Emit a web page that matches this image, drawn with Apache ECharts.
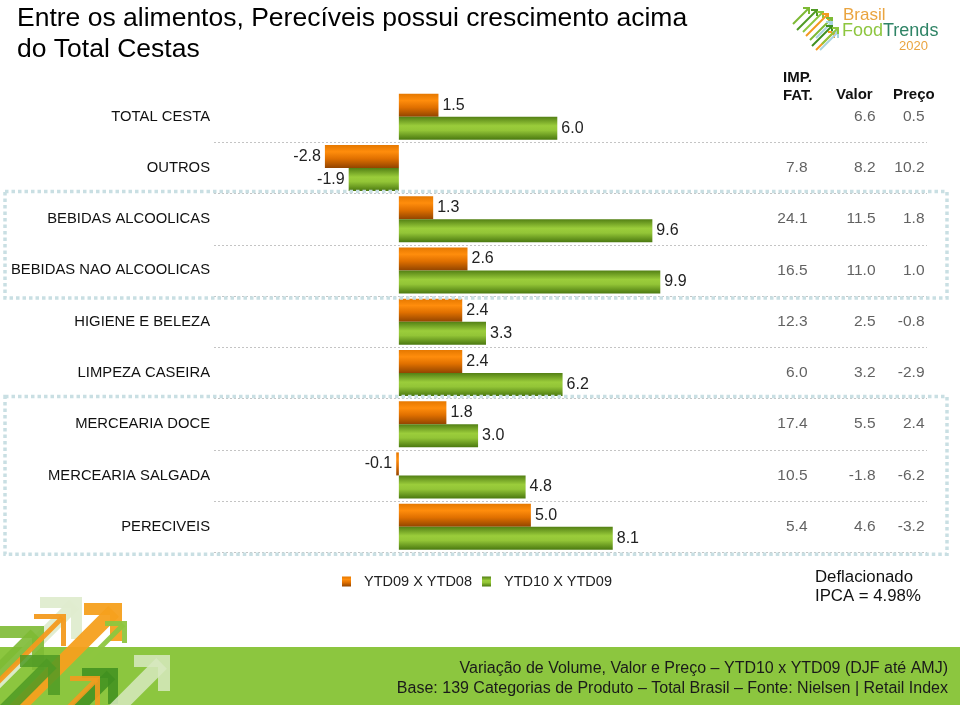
<!DOCTYPE html>
<html><head><meta charset="utf-8">
<script src="https://cdn.jsdelivr.net/npm/echarts@6/dist/echarts.min.js"></script>
<style>html,body{margin:0;padding:0;background:#fff}#c{width:960px;height:705px}</style>
</head><body><div id="c"></div>
<script>
// ---- data ----
const categories = ['TOTAL CESTA','OUTROS','BEBIDAS ALCOOLICAS','BEBIDAS NAO ALCOOLICAS','HIGIENE E BELEZA','LIMPEZA CASEIRA','MERCEARIA DOCE','MERCEARIA SALGADA','PERECIVEIS'];
const seriesNames = ['YTD09 X YTD08','YTD10 X YTD09'];
const ytd09x08 = [1.5,-2.8,1.3,2.6,2.4,2.4,1.8,-0.1,5.0];
const ytd10x09 = [6.0,-1.9,9.6,9.9,3.3,6.2,3.0,4.8,8.1];
const tableColumns = ['IMP. FAT.','Valor','Preço'];
const impFat = [null,7.8,24.1,16.5,12.3,6.0,17.4,10.5,5.4];
const valor  = [6.6,8.2,11.5,11.0,2.5,3.2,5.5,-1.8,4.6];
const preco  = [0.5,10.2,1.8,1.0,-0.8,-2.9,2.4,-6.2,-3.2];
const highlightGroups = [['BEBIDAS ALCOOLICAS','BEBIDAS NAO ALCOOLICAS'],['MERCEARIA DOCE','MERCEARIA SALGADA','PERECIVEIS']];

const FONT = "'Liberation Sans', Arial, sans-serif";
const chart = echarts.init(document.getElementById('c'), null, {renderer:'canvas'});

const orangeGrad = new echarts.graphic.LinearGradient(0,0,0,1,[
  {offset:0,color:'#e57800'},{offset:0.3,color:'#ff8d0c'},{offset:0.6,color:'#e07000'},{offset:1,color:'#934500'}]);
const greenGrad = new echarts.graphic.LinearGradient(0,0,0,1,[
  {offset:0,color:'#527f14'},{offset:0.4,color:'#9bcd3b'},{offset:0.6,color:'#93c537'},{offset:1,color:'#4b7910'}]);

function barData(arr){ return arr.map(v => ({value:v, label:{position: v < 0 ? 'left' : 'right'}})); }
function tableData(arr, col){ const out=[]; arr.forEach((v,i)=>{ if(v!==null) out.push([col,i,v]); }); return out; }

const barLabel = {show:true, distance:4, fontFamily:FONT, fontSize:16, color:'#222', formatter:p=>p.value.toFixed(1)};
const tableLabel = {show:true, position:'left', distance:0, fontFamily:FONT, fontSize:15.5, color:'#3a3a3a', formatter:p=>p.value[2].toFixed(1)};

const option = {
  animation:false,
  backgroundColor:'#fff',
  grid:[
    {left:214, right:33, top:91, bottom:152.7},
    {left:778.75, right:5.75, top:91, bottom:152.7}
  ],
  xAxis:[
    {type:'value', gridIndex:0, min:-7, max:20, show:false},
    {type:'category', gridIndex:1, data:tableColumns, show:false}
  ],
  yAxis:[
    {type:'category', gridIndex:0, inverse:true, data:categories,
     axisLine:{show:false}, axisTick:{show:false},
     axisLabel:{fontFamily:FONT, fontSize:14.8, color:'#111', margin:4},
     splitLine:{show:true, interval:(i)=>i!==0, lineStyle:{color:'#c4c4c4', width:1, type:[2,2]}}},
    {type:'category', gridIndex:1, inverse:true, data:categories, show:false}
  ],
  legend:{
    data:seriesNames, left:337, top:569, itemWidth:9, itemHeight:10, itemGap:10, icon:'rect',
    textStyle:{fontFamily:FONT, fontSize:14.5, color:'#222', padding:[0,0,0,8]}
  },
  series:[
    {type:'bar', name:seriesNames[0], xAxisIndex:0, yAxisIndex:0, data:barData(ytd09x08), barWidth:23, barGap:'0%',
     itemStyle:{color:orangeGrad}, label:barLabel},
    {type:'bar', name:seriesNames[1], xAxisIndex:0, yAxisIndex:0, data:barData(ytd10x09), barWidth:23, barGap:'0%',
     itemStyle:{color:greenGrad}, label:barLabel},
    {type:'scatter', name:tableColumns[0], xAxisIndex:1, yAxisIndex:1, data:tableData(impFat,0), symbolSize:1, itemStyle:{color:'rgba(0,0,0,0)'}, label:tableLabel, silent:true},
    {type:'scatter', name:tableColumns[1], xAxisIndex:1, yAxisIndex:1, data:tableData(valor,1), symbolSize:1, itemStyle:{color:'rgba(0,0,0,0)'}, label:Object.assign({}, tableLabel, {offset:[9.5,0]}), silent:true},
    {type:'scatter', name:tableColumns[2], xAxisIndex:1, yAxisIndex:1, data:tableData(preco,2), symbolSize:1, itemStyle:{color:'rgba(0,0,0,0)'}, label:tableLabel, silent:true}
  ]
};
chart.setOption(option);

// ---- decorations ----
const g = [];
// title
g.push({type:'text', left:17, top:3, style:{text:'Entre os alimentos, Perecíveis possui crescimento acima\ndo Total Cestas', font:'26.5px '+FONT, fill:'#000', lineHeight:31}});
// table headers
g.push({type:'text', x:783, y:69, style:{text:'IMP.\nFAT.', font:'bold 15px '+FONT, fill:'#111', lineHeight:18}});
g.push({type:'text', x:836, y:87, style:{text:'Valor', font:'bold 15px '+FONT, fill:'#111'}});
g.push({type:'text', x:893, y:87, style:{text:'Preço', font:'bold 15px '+FONT, fill:'#111'}});
// deflacionado note
g.push({type:'text', x:815, y:568, style:{text:'Deflacionado\nIPCA = 4.98%', font:'16.8px '+FONT, fill:'#111', lineHeight:19}});

// highlight boxes tied to category scale
const band = (705 - 91 - 152.7) / categories.length;
highlightGroups.forEach(grp=>{
  const yTop = chart.convertToPixel({yAxisIndex:0}, grp[0]) - band/2 - 2;
  const yBot = chart.convertToPixel({yAxisIndex:0}, grp[grp.length-1]) + band/2 + 2;
  g.push({type:'rect', z:50, shape:{x:5, y:yTop, width:942, height:yBot-yTop},
    style:{fill:'none', stroke:'#c9dfe3', lineWidth:3.5, lineDash:[3.5,3]}});
});

// bottom band
g.push({type:'rect', z:1, shape:{x:0,y:647,width:960,height:58}, style:{fill:'#8cc63f'}});
g.push({type:'text', z:5, x:948, y:669, style:{text:'Variação de Volume, Valor e Preço – YTD10 x YTD09 (DJF até AMJ)', font:'16px '+FONT, fill:'#1a1a1a', align:'right', verticalAlign:'middle'}});
g.push({type:'text', z:5, x:948, y:689, style:{text:'Base: 139 Categorias de Produto – Total Brasil – Fonte: Nielsen | Retail Index', font:'16px '+FONT, fill:'#1a1a1a', align:'right', verticalAlign:'middle'}});

// big arrows bottom-left
function bigArrow(cx, cy, arm, thick, shaftLen, shaftW, color, op, z){
  g.push({type:'polygon', z:z||2, shape:{points:[[cx-arm,cy],[cx,cy],[cx,cy+arm],[cx-thick,cy+arm],[cx-thick,cy+thick],[cx-arm,cy+thick]]}, style:{fill:color, opacity:op}});
  g.push({type:'line', z:z||2, shape:{x1:cx-thick*0.7, y1:cy+thick*0.7, x2:cx-shaftLen, y2:cy+shaftLen}, style:{stroke:color, lineWidth:shaftW, opacity:op}});
}
bigArrow(82,597,42,11,110,13,'#dfeccf',0.95,2);
bigArrow(44,626,44,12,90,14,'#7dba34',0.9,2);
bigArrow(66,614,32,5,80,5,'#f39a1e',0.95,3);
bigArrow(122,603,38,12,110,15,'#f6a01d',0.95,3);
bigArrow(127,621,22,5,50,5,'#8dc63f',0.95,3);
bigArrow(60,655,40,12,70,14,'#4f9a24',0.85,3);
bigArrow(118,668,36,10,60,12,'#3f8f20',0.85,3);
bigArrow(100,676,30,5,40,5,'#f39a1e',0.9,3);
bigArrow(170,655,36,12,60,15,'#d7e9c0',0.85,3);

// logo
function smallArrow(x,y,len,color,w){
  g.push({type:'line', z:3, shape:{x1:x,y1:y,x2:x+len,y2:y-len}, style:{stroke:color,lineWidth:w}});
  g.push({type:'polyline', z:3, shape:{points:[[x+len-6,y-len],[x+len,y-len],[x+len,y-len+6]]}, style:{stroke:color,lineWidth:w}});
}
smallArrow(793,24,16,'#7dba34',2);
smallArrow(797,30,20,'#4f9a24',2);
smallArrow(803,32,20,'#8dc63f',2);
smallArrow(806,36,22,'#f39a1e',2);
smallArrow(810,40,22,'#7dba34',2);
smallArrow(816,38,16,'#a9d3e0',2);
smallArrow(812,46,20,'#3f8f20',2);
smallArrow(816,50,18,'#f39a1e',2);
smallArrow(820,50,18,'#a9d3e0',2);
smallArrow(822,44,16,'#8dc63f',2);
g.push({type:'text', x:843, y:7, style:{text:'Brasil', font:'17px '+FONT, fill:'#eaa43f'}});
g.push({type:'text', x:842, y:22, style:{text:'{a|Food}{b|Trends}', rich:{a:{fontSize:18, fontFamily:FONT, fill:'#8dc63f'}, b:{fontSize:18, fontFamily:FONT, fill:'#2f8466'}}}});
g.push({type:'text', x:899, y:40, style:{text:'2020', font:'13px '+FONT, fill:'#eaa43f'}});

chart.setOption({graphic:g});
</script>
</body></html>
